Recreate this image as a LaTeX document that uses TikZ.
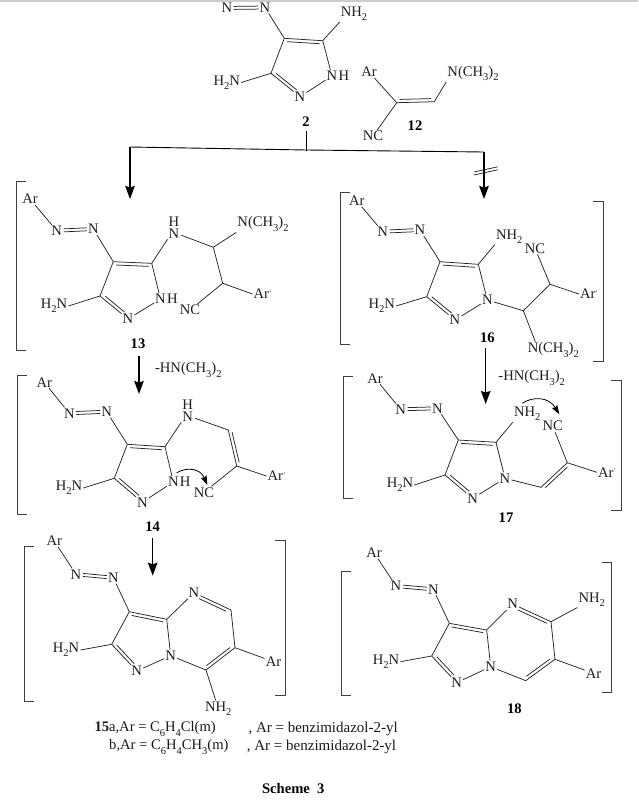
\documentclass[tikz,border=0pt]{standalone}
\usepackage{fontspec}
\setmainfont{Liberation Serif}
\usetikzlibrary{calc,arrows.meta}
\newcommand{\sbs}[1]{\raisebox{-0.28em}{\fontsize{10.5}{10.5}\selectfont #1}}
\newcommand{\arp}{Ar\raisebox{0.25em}{\fontsize{7}{7}\selectfont '}}
\newcommand{\nme}{N(CH\sbs{3})\sbs{2}}
\newcommand{\nhh}{NH\sbs{2}}
\newcommand{\hhn}{H\sbs{2}N}
\tikzset{
 atom/.style={inner sep=1pt,font=\fontsize{14.6}{16}\selectfont,text=black!88},
 stacked/.style={inner sep=1pt,align=center,font=\fontsize{14.6}{11.6}\selectfont,text=black!88},
 hatom/.style={inner sep=0pt,anchor=west,font=\fontsize{14.6}{16}\selectfont,text=black!88},
 cmpd/.style={inner sep=1pt,font=\fontsize{14.6}{16}\selectfont\bfseries,text=black},
 legend/.style={inner sep=0pt,anchor=west,font=\fontsize{14.6}{16}\selectfont,text=black!90},
 legendwide/.style={inner sep=0pt,anchor=west,font=\fontsize{15}{16}\selectfont,text=black!90},
 bondl/.style={line width=0.75pt,draw=black!85},
 brk/.style={line width=0.9pt,draw=black!75},
 react/.style={line width=1.3pt,draw=black,-{Stealth[length=13pt,width=9.5pt,inset=1.5pt]}},
 rail/.style={line width=0.9pt,draw=black},
 curl/.style={line width=0.8pt,draw=black,-{Stealth[length=9pt,width=6pt,inset=1pt]}},
}
\newcommand{\sbond}[2]{\draw[bondl] (#1) -- (#2);}
% a, b, signed offset, shorten at a, shorten at b
\newcommand{\dbond}[5]{\draw[bondl] (#1) -- (#2);
 \draw[bondl,shorten <=#4pt,shorten >=#5pt] ($(#1)!#3pt!90:(#2)$) -- ($(#2)!#3pt!-90:(#1)$);}
\newcommand{\azo}[2]{\draw[bondl,shorten <=7pt,shorten >=6.5pt] ($(#1)!1.5pt!90:(#2)$) -- ($(#2)!1.5pt!-90:(#1)$);
 \draw[bondl,shorten <=7pt,shorten >=6.5pt] ($(#1)!-1.5pt!90:(#2)$) -- ($(#2)!-1.5pt!-90:(#1)$);}
\newcommand{\lbrk}[3]{\draw[brk] (#1+9.5,#2) -- (#1,#2) -- (#1,#3) -- (#1+9.5,#3);}
\newcommand{\rbrk}[3]{\draw[brk] (#1-10,#2) -- (#1,#2) -- (#1,#3) -- (#1-10,#3);}
\begin{document}
\begin{tikzpicture}[x=1pt,y=-1pt]
\useasboundingbox (0,0) rectangle (638,801);
\fill[white] (0,0) rectangle (638,801);
\fill[black!20] (0,0) rectangle (638,2.2);

% ---------- 2
\node[atom] (aN) at (227,8) {N};
\node[atom] (bN) at (265,7.5) {N};
\coordinate (bC4) at (284.3,38.3);
\coordinate (bC5) at (322.7,40.7);
\node[atom] (bN1) at (332,76) {N};
\node[hatom] (bH1) at (bN1.east) {H};
\node[atom] (bN2) at (300,96.7) {N};
\coordinate (bC3) at (271,73.3);
\node[atom] (bNH) at (354,14) {\nhh};
\node[atom] (bHN) at (226.7,82.5) {\hhn};
\node[cmpd] (lab2) at (306,122) {2};
\azo{aN}{bN}
\sbond{bN}{bC4}
\dbond{bC4}{bC5}{-3.2}{3}{3}
\sbond{bC5}{bN1}
\sbond{bN1}{bN2}
\dbond{bC3}{bN2}{3.2}{4}{7}
\sbond{bC3}{bC4}
\sbond{bC5}{bNH.south west}
\sbond{bC3}{bHN.east}

% ---------- 12
\node[atom] (cAr) at (369,72) {Ar};
\coordinate (cC) at (396.7,102.7);
\coordinate (cD) at (434.3,101.7);
\node[atom] (cMe) at (473,73.5) {\nme};
\node[atom] (cNC) at (373,136) {NC};
\node[cmpd] (lab12) at (415,126) {12};
\sbond{cAr}{cC}
\dbond{cC}{cD}{3.2}{3}{3}
\sbond{cD}{cMe.south west}
\sbond{cC}{cNC}

% ---------- split
\coordinate (tickT) at (306.7,131);
\coordinate (tickB) at (306.7,151);
\coordinate (railL) at (130,147);
\coordinate (railM) at (306.7,150);
\coordinate (railR) at (484,152);
\coordinate (tipL) at (130,199);
\coordinate (tipR) at (484,199);
\coordinate (crA1) at (474,172);
\coordinate (crA2) at (497.7,166.8);
\coordinate (crB1) at (474,175);
\coordinate (crB2) at (497.7,169.8);
\draw[rail] (tickT) -- (tickB);
\draw[rail] (railL) -- (railM) -- (railR);
\draw[react] (railL) -- (tipL);
\draw[react] (railR) -- (tipR);
\draw[bondl] (crA1) -- (crA2);
\draw[bondl] (crB1) -- (crB2);

% ---------- 13
\lbrk{16.7}{181.7}{350}
\node[atom] (dAr) at (30,199) {Ar};
\node[atom] (dNa) at (56.7,230.7) {N};
\node[atom] (dNb) at (93.3,229) {N};
\coordinate (dC4) at (113.3,261.7);
\coordinate (dC5) at (151.7,263.3);
\node[atom] (dN1) at (160.5,299) {N};
\node[hatom] (dH1) at (dN1.east) {H};
\node[atom] (dN2) at (128,319) {N};
\coordinate (dC3) at (100,296);
\node[atom] (dHN) at (54,306) {\hhn};
\node[stacked] (dN) at (174,227.5) {H\\N};
\coordinate (dA) at (213.3,247.3);
\node[atom] (dMe) at (263,224) {\nme};
\coordinate (dB) at (222.7,283.3);
\node[atom] (dAp) at (262.5,294) {\arp};
\node[atom] (dNC) at (190,310) {NC};
\node[cmpd] (lab13) at (138,344) {13};
\sbond{dAr}{dNa}
\azo{dNa}{dNb}
\sbond{dNb}{dC4}
\dbond{dC4}{dC5}{-3.2}{3}{3}
\sbond{dC5}{dN1}
\sbond{dN1}{dN2}
\dbond{dC3}{dN2}{3.2}{4}{7}
\sbond{dC3}{dC4}
\sbond{dC3}{dHN.east}
\sbond{dC5}{dN.south west}
\draw[bondl] ([yshift=4pt,xshift=1pt]dN.south east) -- (dA);
\sbond{dA}{dMe.south west}
\sbond{dA}{dB}
\sbond{dB}{dAp.west}
\sbond{dB}{dNC}

% ---------- 16
\lbrk{340.7}{192}{344.3}
\rbrk{603.3}{201.7}{361.7}
\node[atom] (eAr) at (356.7,200.7) {Ar};
\node[atom] (eNa) at (382.7,231.7) {N};
\node[atom] (eNb) at (420,230) {N};
\coordinate (eC4) at (440,261.7);
\coordinate (eC5) at (478.3,264.3);
\node[atom] (eN1) at (487.3,300) {N};
\node[atom] (eN2) at (455,320) {N};
\coordinate (eC3) at (426.7,296.7);
\node[atom] (eHN) at (381.7,306) {\hhn};
\node[atom] (eNH) at (509.3,236.5) {\nhh};
\node[atom] (eNC) at (535,248.3) {NC};
\coordinate (eB) at (550,284.3);
\node[atom] (eAp) at (589,294) {\arp};
\coordinate (eA) at (523.3,310.7);
\node[atom] (eMe) at (553.3,350) {\nme};
\node[cmpd] (lab16) at (487.3,337.3) {16};
\sbond{eAr}{eNa}
\azo{eNa}{eNb}
\sbond{eNb}{eC4}
\dbond{eC4}{eC5}{-3.2}{3}{3}
\sbond{eC5}{eN1}
\sbond{eN1}{eN2}
\dbond{eC3}{eN2}{3.2}{4}{7}
\sbond{eC3}{eC4}
\sbond{eC3}{eHN.east}
\sbond{eC5}{eNH.south west}
\sbond{eN1}{eA}
\sbond{eA}{eB}
\sbond{eB}{eNC}
\sbond{eB}{eAp.west}
\draw[bondl] (eA) -- ([xshift=-18pt]eMe.north);

% ---------- 13 to 14, 16 to 17
\coordinate (s13) at (139,356);
\coordinate (t13) at (139,394);
\draw[react] (s13) -- (t13);
\node[atom] (lossL) at (188.3,370) {-HN(CH\sbs{3})\sbs{2}};
\coordinate (s16) at (485.7,347.7);
\coordinate (t16) at (485.7,404);
\draw[react] (s16) -- (t16);
\node[atom] (lossR) at (531.7,378) {-HN(CH\sbs{3})\sbs{2}};

% ---------- 14
\lbrk{17.3}{375}{514}
\node[atom] (fAr) at (44.3,382.3) {Ar};
\node[atom] (fNa) at (69.3,413.3) {N};
\node[atom] (fNb) at (106.7,411.7) {N};
\coordinate (fC4) at (127.3,444.3);
\coordinate (fC5) at (165,446.7);
\node[atom] (fN1) at (173.3,482) {N};
\node[hatom] (fH1) at (fN1.east) {H};
\node[atom] (fN2) at (142.3,502.3) {N};
\coordinate (fC3) at (114.3,478.3);
\node[atom] (fHN) at (69,488) {\hhn};
\node[stacked] (fN) at (187.7,410.5) {H\\N};
\coordinate (fA) at (228.3,430);
\coordinate (fB) at (236.7,466);
\node[atom] (fAp) at (276.5,476) {\arp};
\node[atom] (fNC) at (204,492.3) {NC};
\node[cmpd] (lab14) at (152.7,526.7) {14};
\sbond{fAr}{fNa}
\azo{fNa}{fNb}
\sbond{fNb}{fC4}
\dbond{fC4}{fC5}{-3.2}{3}{3}
\sbond{fC5}{fN1}
\sbond{fN1}{fN2}
\dbond{fC3}{fN2}{3.2}{4}{7}
\sbond{fC3}{fC4}
\sbond{fC3}{fHN.east}
\sbond{fC5}{fN.south west}
\draw[bondl] ([yshift=4pt,xshift=1pt]fN.south east) -- (fA);
\dbond{fA}{fB}{3.2}{3}{3}
\sbond{fB}{fAp.west}
\sbond{fB}{fNC}
\coordinate (fcS) at (176.7,472.7);
\coordinate (fcT) at (207.3,485);
\draw[curl] (fcS) .. controls (187,467) and (200,468) .. (fcT);

% ---------- 17
\lbrk{343.3}{376.7}{498.3}
\rbrk{621}{380}{510}
\node[atom] (gAr) at (375,378.3) {Ar};
\node[atom] (gNa) at (400.7,409.3) {N};
\node[atom] (gNb) at (437.3,408.3) {N};
\coordinate (gC4) at (458.3,440);
\coordinate (gC5) at (496,442.3);
\node[atom] (gN1) at (505,478.3) {N};
\node[atom] (gN2) at (472.7,498.3) {N};
\coordinate (gC3) at (445,475);
\node[atom] (gHN) at (400,485) {\hhn};
\node[atom] (gNH) at (527.3,414) {\nhh};
\node[atom] (gNC) at (552.7,426) {NC};
\coordinate (gA) at (541,487.3);
\coordinate (gB) at (567.3,462.7);
\node[atom] (gAp) at (607,472.3) {\arp};
\node[cmpd] (lab17) at (506,517.7) {17};
\sbond{gAr}{gNa}
\azo{gNa}{gNb}
\sbond{gNb}{gC4}
\dbond{gC4}{gC5}{-3.2}{3}{3}
\sbond{gC5}{gN1}
\sbond{gN1}{gN2}
\dbond{gC3}{gN2}{3.2}{4}{7}
\sbond{gC3}{gC4}
\sbond{gC3}{gHN.east}
\sbond{gC5}{gNH.south west}
\sbond{gN1}{gA}
\dbond{gB}{gA}{3.2}{3}{3}
\sbond{gB}{gNC}
\sbond{gB}{gAp.west}
\coordinate (gcS) at (522.3,403.3);
\coordinate (gcT) at (559.3,414.3);
\draw[curl] (gcS) .. controls (533,396) and (549,397) .. (gcT);

% ---------- 14 to 15
\coordinate (s14) at (152.7,538.3);
\coordinate (t14) at (152.7,575.7);
\draw[react] (s14) -- (t14);

% ---------- 15
\lbrk{24}{546.7}{701}
\rbrk{285.3}{540.7}{695}
\node[atom] (hAr) at (54.3,541) {Ar};
\node[atom] (hNa) at (76,574.3) {N};
\node[atom] (hNb) at (113.3,577.7) {N};
\coordinate (hC3) at (129.3,611.7);
\coordinate (hC9) at (166.7,619.3);
\node[atom] (hNq) at (170.7,655.7) {N};
\node[atom] (hN1) at (136.7,671) {N};
\coordinate (hC2) at (111.7,644.3);
\node[atom] (hHN) at (66,650) {\hhn};
\node[atom] (hN4) at (194,592.7) {N};
\coordinate (hC5) at (231,610);
\coordinate (hC6) at (235,647.7);
\node[atom] (hAp) at (273.5,661.7) {Ar};
\coordinate (hC7) at (206,670);
\node[atom] (hNH) at (218.3,708.5) {\nhh};
\sbond{hAr}{hNa}
\azo{hNa}{hNb}
\sbond{hNb}{hC3}
\dbond{hC3}{hC9}{-3.2}{3}{3}
\sbond{hC9}{hNq}
\sbond{hNq}{hN1}
\dbond{hC2}{hN1}{3.2}{4}{7}
\sbond{hC2}{hC3}
\sbond{hC2}{hHN.east}
\sbond{hC9}{hN4}
\dbond{hN4}{hC5}{-3.2}{7}{4}
\sbond{hC5}{hC6}
\dbond{hC6}{hC7}{-3.2}{4}{3}
\sbond{hC7}{hNq}
\sbond{hC6}{hAp}
\sbond{hC7}{hNH}

% ---------- 18
\lbrk{341.7}{571.7}{695}
\rbrk{611.7}{562.7}{692.7}
\node[atom] (iAr) at (374,552.7) {Ar};
\node[atom] (iNa) at (396,586) {N};
\node[atom] (iNb) at (433.3,589.3) {N};
\coordinate (iC3) at (449.3,623.3);
\coordinate (iC9) at (486.7,630);
\node[atom] (iNq) at (490.7,666.7) {N};
\node[atom] (iN1) at (456.7,682.7) {N};
\coordinate (iC2) at (431.7,656);
\node[atom] (iHN) at (386,661.7) {\hhn};
\node[atom] (iN4) at (512.7,604) {N};
\coordinate (iC5) at (551,621.7);
\coordinate (iC6) at (555,659.3);
\coordinate (iC7) at (525.7,680.7);
\node[atom] (iNH) at (591.7,599.5) {\nhh};
\node[atom] (iAp) at (593.5,673.3) {Ar};
\node[cmpd] (lab18) at (514.3,708.3) {18};
\sbond{iAr}{iNa}
\azo{iNa}{iNb}
\sbond{iNb}{iC3}
\dbond{iC3}{iC9}{-3.2}{3}{3}
\sbond{iC9}{iNq}
\sbond{iNq}{iN1}
\dbond{iC2}{iN1}{3.2}{4}{7}
\sbond{iC2}{iC3}
\sbond{iC2}{iHN.east}
\sbond{iC9}{iN4}
\dbond{iN4}{iC5}{-3.2}{7}{3}
\sbond{iC5}{iC6}
\dbond{iC6}{iC7}{-3.2}{4}{3}
\sbond{iC7}{iNq}
\sbond{iC5}{iNH.south west}
\sbond{iC6}{iAp}

% ---------- legend
\node[legend] (legA) at (94.3,729) {{\bfseries 15}a,Ar = C\sbs{6}H\sbs{4}Cl(m)};
\node[legendwide] (legB) at (248.3,729) {, Ar = benzimidazol-2-yl};
\node[legend] (legC) at (109,747) {b,Ar = C\sbs{6}H\sbs{4}CH\sbs{3}(m)};
\node[legendwide] (legD) at (246.7,747) {, Ar = benzimidazol-2-yl};
\node[cmpd] (title) at (293.3,788.3) {Scheme\hspace{0.5em}3};
\end{tikzpicture}
\end{document}
